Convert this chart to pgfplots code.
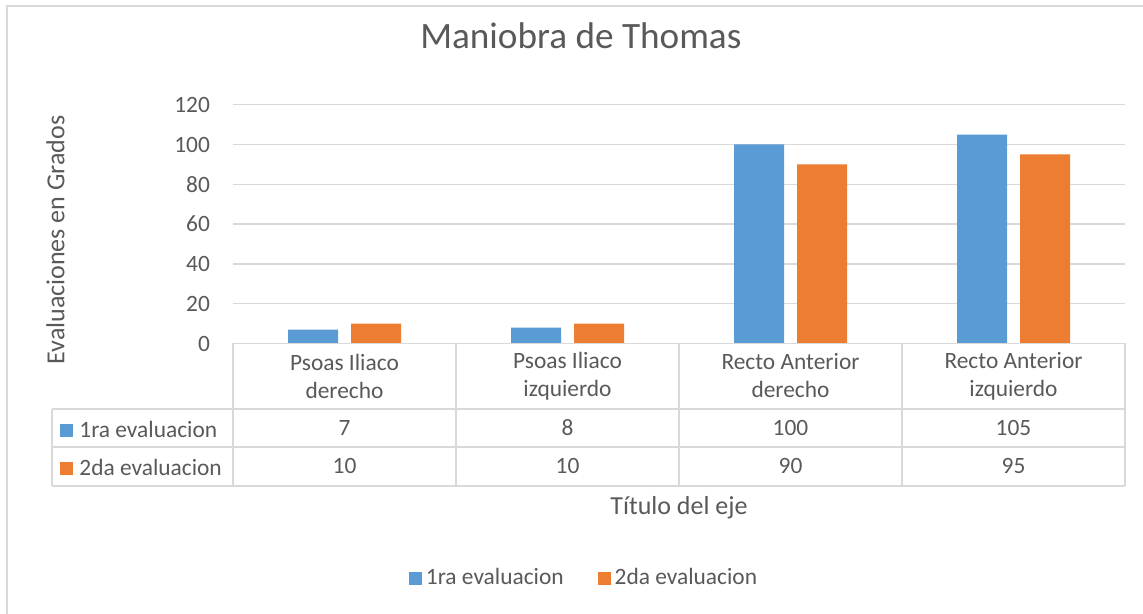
\documentclass[border=0pt]{standalone}
\usepackage{pgfplots}
\pgfplotsset{compat=1.18}
\usepackage{pgfplotstable}
\usepackage{fontspec}
\setmainfont{Carlito}
\definecolor{txt}{HTML}{595959}
\definecolor{gridc}{HTML}{D9D9D9}
\definecolor{blueb}{HTML}{5B9BD5}
\definecolor{orangeb}{HTML}{ED7D31}
\pgfplotstableread{
x a b
0 7 10
1 8 10
2 100 90
3 105 95
}\datatable
\newcommand{\fsmall}{\fontsize{11.7}{14}\selectfont}
\begin{document}
\begin{tikzpicture}
\useasboundingbox (-116.5pt,-135.25pt) rectangle (455pt,171.75pt);
\begin{axis}[
 at={(0,0)}, anchor=south west,
 scale only axis, width=446pt, height=119.4pt,
 xmin=-0.5, xmax=3.5, ymin=0, ymax=120,
 ytick={0,20,...,120},
 xtick={0,1,2,3},
 xticklabels={{Psoas Iliaco\\derecho},{Psoas Iliaco\\izquierdo},{Recto Anterior\\derecho},{Recto Anterior\\izquierdo}},
 xticklabel style={align=center, anchor=center, yshift=-16.25pt, font=\fsmall, text=txt},
 yticklabel style={anchor=east, xshift=-8pt, font=\fsmall, text=txt},
 /pgf/number format/assume math mode=true,
 major tick length=0pt,
 axis line style={draw=none},
 ymajorgrids, major grid style={gridc, line width=0.75pt},
 clip=false,
 title={Maniobra de Thomas},
 title style={at={(axis description cs:0.39,1.238)}, anchor=center, font=\fontsize{18.6}{22}\selectfont, text=txt},
 ylabel={Evaluaciones en Grados},
 ylabel style={at={(axis description cs:-0.199,0.433)}, anchor=center, font=\fontsize{13}{15}\selectfont, text=txt},
 xlabel={Título del eje},
 xlabel style={at={(axis description cs:0.5,-0.689)}, anchor=center, font=\fontsize{13}{15}\selectfont, text=txt},
 legend columns=2,
 legend style={at={(axis description cs:0.3946,-0.982)}, anchor=center, draw=none, font=\fsmall, text=txt,
   /tikz/every even column/.append style={column sep=15pt}},
]
\addplot[ybar, bar width=25pt, bar shift=-15.75pt, fill=blueb, draw=none,
  legend image code/.code={\fill[blueb] (0pt,-3.4pt) rectangle (6.5pt,3.1pt);}]
  table[x=x, y=a]{\datatable};
\addlegendentry{1ra evaluacion}
\addplot[ybar, bar width=25pt, bar shift=15.75pt, fill=orangeb, draw=none,
  legend image code/.code={\fill[orangeb] (0pt,-3.4pt) rectangle (6.5pt,3.1pt);}]
  table[x=x, y=b]{\datatable};
\addlegendentry{2da evaluacion}
\addplot[draw=none, mark=none, forget plot, nodes near coords, point meta=explicit symbolic,
  every node near coord/.append style={anchor=center, font=\fsmall, text=txt}]
  table[x=x, y expr=-42.46, meta=a]{\datatable};
\addplot[draw=none, mark=none, forget plot, nodes near coords, point meta=explicit symbolic,
  every node near coord/.append style={anchor=center, font=\fsmall, text=txt}]
  table[x=x, y expr=-61.8, meta=b]{\datatable};
\end{axis}
\begin{scope}[shift={(-116.5pt,171.75pt)}, x=0.5pt, y=-0.5pt]
\draw[gridc, line width=0.75pt] (7,614) -- (7,6) -- (1143,6);
\draw[gridc, line width=0.75pt] (233,343.5) -- (1125,343.5);
\foreach \xx in {233,456,679,902,1125} \draw[gridc, line width=0.75pt] (\xx,343.5) -- (\xx,486);
\foreach \yy in {409,447,486} \draw[gridc, line width=0.75pt] (52,\yy) -- (1125,\yy);
\draw[gridc, line width=0.75pt] (52,409) -- (52,486);
\fill[blueb] (60,424) rectangle (73,437);
\node[anchor=west, text=txt, font=\fsmall, inner sep=0pt] at (79,429) {1ra evaluacion};
\fill[orangeb] (60,462) rectangle (73,475);
\node[anchor=west, text=txt, font=\fsmall, inner sep=0pt] at (79,467) {2da evaluacion};
\end{scope}
\end{tikzpicture}
\end{document}
